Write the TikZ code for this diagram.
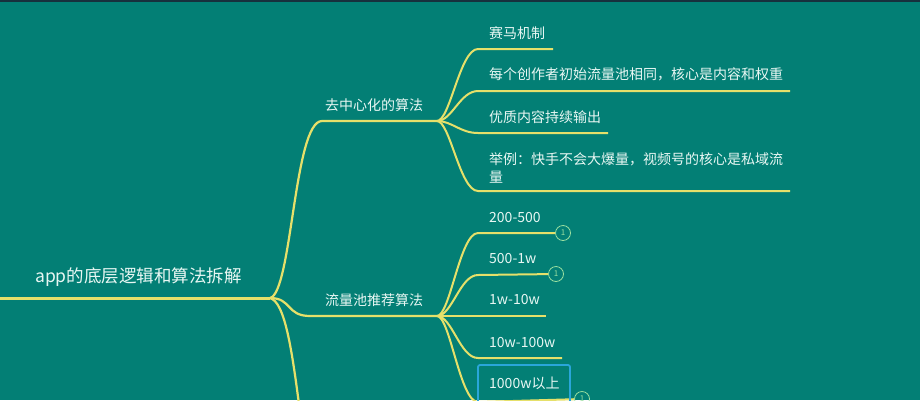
\documentclass[tikz,border=0pt]{standalone}
\usepackage{fontspec}
\usetikzlibrary{fit}
\setmainfont{Noto Sans CJK SC}
\definecolor{bg}{HTML}{037F75}
\definecolor{topbar}{HTML}{17303D}
\definecolor{ln}{HTML}{E6E06A}
\definecolor{txt}{HTML}{E8F7F3}
\definecolor{cir}{HTML}{9ADFA0}
\definecolor{sel}{HTML}{2AA6DA}
\tikzset{
  roottext/.style={font=\fontsize{17.5}{20}\selectfont, text=txt, anchor=west, inner sep=0pt},
  lbl/.style={font=\fontsize{14}{18}\selectfont, text=txt, anchor=west, inner sep=0pt, align=left},
  mainline/.style={draw=ln, line width=3pt},
  brline/.style={draw=ln, line width=2.2pt},
  subline/.style={draw=ln, line width=2pt},
  badge/.style={circle, draw=cir, line width=0.8pt, minimum size=15pt, inner sep=0pt, text=cir, font=\fontsize{8}{8}\selectfont},
  selframe/.style={draw=sel, line width=1.8pt, rounded corners=2pt, inner sep=0pt}
}
\begin{document}
\begin{tikzpicture}[x=1pt,y=-1pt]
\useasboundingbox (0,0) rectangle (920,400);
\clip (0,0) rectangle (920,400);
\fill[bg] (0,0) rectangle (920,400);
\fill[topbar] (0,0) rectangle (920,2);

% coordinates
\coordinate (r0) at (0,298);
\coordinate (R) at (270,298);
\coordinate (A) at (437,121);
\coordinate (B) at (437,316);
\coordinate (As) at (322,121);
\coordinate (Bs) at (310,316);
\coordinate (Cend) at (300,412);
\coordinate (a1s) at (478,49);  \coordinate (a1e) at (553,49);
\coordinate (a2s) at (478,91);  \coordinate (a2e) at (790,91);
\coordinate (a3s) at (478,133); \coordinate (a3e) at (608,133);
\coordinate (a4s) at (478,191); \coordinate (a4e) at (790,191);
\coordinate (b1s) at (478,233);
\coordinate (b2s) at (478,275);
\coordinate (b3e) at (546,316);
\coordinate (b4s) at (478,358); \coordinate (b4e) at (562,358);
\coordinate (b5s) at (478,402);
\coordinate (f1) at (478,365);
\coordinate (f2) at (570,407);

% texts
\node[roottext] (root) at (35,277) {app的底层逻辑和算法拆解};
\node[lbl] (ta) at (325,105) {去中心化的算法};
\node[lbl] (tb) at (325,300) {流量池推荐算法};
\node[lbl] (a1) at (489,33) {赛马机制};
\node[lbl] (a2) at (489,74) {每个创作者初始流量池相同，核心是内容和权重};
\node[lbl] (a3) at (489,117) {优质内容持续输出};
\node[lbl] (a4) at (489,168) {举例：快手不会大爆量，视频号的核心是私域流\\量};
\node[lbl] (b1) at (489,218) {200-500};
\node[lbl] (b2) at (489,259) {500-1w};
\node[lbl] (b3) at (489,300) {1w-10w};
\node[lbl] (b4) at (489,342) {10w-100w};
\node[lbl] (b5) at (489,383) {1000w以上};

% badges
\node[badge] (c1) at (563,233) {1};
\node[badge] (c2) at (556,274) {1};
\node[badge] (c5) at (582,399) {1};

% main connectors
\draw[mainline] (r0) -- (R);
\draw[brline] (R) .. controls (292,293) and (294,121) .. (As) -- (A);
\draw[brline] (R) .. controls (292,298) and (286,316) .. (Bs) -- (B);
\draw[brline] (R) .. controls (285,302) and (292,350) .. (Cend);

% sub connectors A
\draw[subline] (A) .. controls (450,121) and (460,49) .. (a1s) -- (a1e);
\draw[subline] (A) .. controls (452,121) and (460,91) .. (a2s) -- (a2e);
\draw[subline] (A) .. controls (452,121) and (460,133) .. (a3s) -- (a3e);
\draw[subline] (A) .. controls (450,121) and (460,191) .. (a4s) -- (a4e);

% sub connectors B
\draw[subline] (B) .. controls (450,316) and (460,233) .. (b1s) -- (c1);
\draw[subline] (B) .. controls (452,316) and (460,275) .. (b2s) -- (c2);
\draw[subline] (B) -- (b3e);
\draw[subline] (B) .. controls (452,316) and (460,358) .. (b4s) -- (b4e);
\draw[subline] (B) .. controls (450,316) and (460,402) .. (b5s) -- (c5);

% selection frame
\node[selframe, fit=(f1) (f2)] (b5frame) {};
\end{tikzpicture}
\end{document}
